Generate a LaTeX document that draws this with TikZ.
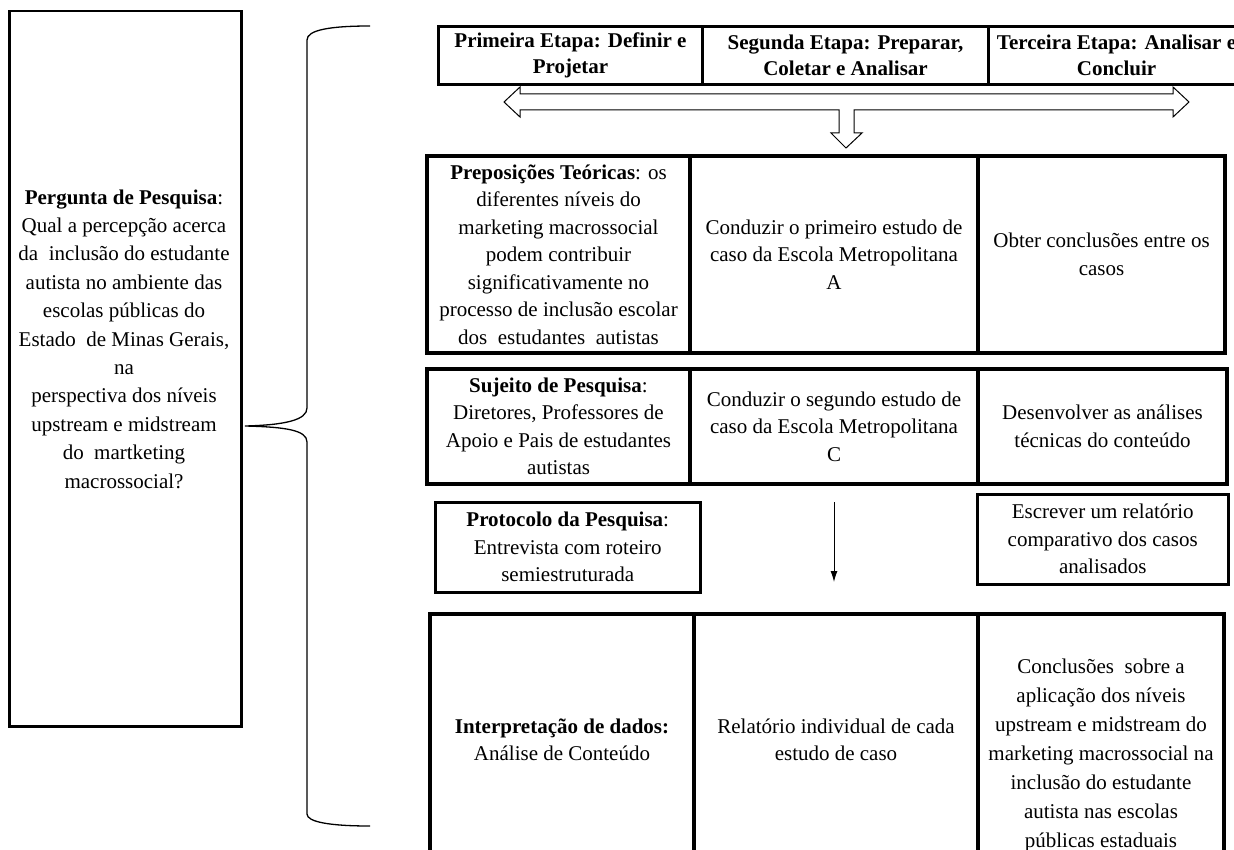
\documentclass[tikz,border=0pt]{standalone}
\usepackage{fontspec}
\setmainfont{Liberation Serif}
\usetikzlibrary{arrows.meta}

\begin{document}
\begin{tikzpicture}[
    x=1pt, y=-1pt,
    every node/.style={font=\fontsize{21}{27.5}\selectfont},
    etapa/.style={rectangle, draw, line width=3pt, anchor=north west, align=center, inner sep=0pt,
      font=\fontsize{21}{26}\selectfont\bfseries},
    cell/.style={rectangle, draw, line width=4pt, anchor=north west, align=center, inner sep=0pt},
    caixa/.style={rectangle, draw, line width=2.5pt, anchor=north west, align=center, inner sep=0pt},
    seta/.style={line width=1pt, line join=miter},
    chave/.style={line width=1.3pt},
    fluxo/.style={line width=0.9pt, -{Latex[length=11pt,width=7pt]}}
]
\useasboundingbox (0,0) rectangle (1234,850);

% Pergunta de pesquisa
\node[caixa, minimum width=232pt, minimum height=715pt] (pergunta) at (8,10) {};
\node[align=center, inner sep=0pt, font=\fontsize{21}{28.4}\selectfont] (pergtxt) at (124,339)
  {\textbf{Pergunta de Pesquisa}:\\Qual a percepção acerca\\da\ \ inclusão do estudante\\autista no ambiente das\\escolas públicas do\\Estado\ \ de Minas Gerais,\\na\\perspectiva dos níveis\\upstream e midstream\\do\ \ martketing\\macrossocial?};

% chave
\coordinate (ponta) at (245,426);
\draw[chave] (370,26) .. controls (330,26) and (307,30) .. (307,40) -- (307,408)
  .. controls (307,420) and (285,425) .. (ponta)
  .. controls (285,427) and (307,430) .. (307,442) -- (307,814)
  .. controls (307,822) and (330,826) .. (370,826);

% Etapas
\node[etapa, minimum width=264pt, minimum height=58pt] (et1) at (437,25) {Primeira Etapa: Definir e\\Projetar};
\node[etapa, minimum width=286pt, minimum height=58pt] (et2) at (701,25) {Segunda Etapa: Preparar,\\Coletar e Analisar};
\node[etapa, minimum width=256pt, minimum height=58pt] (et3) at (987,25) {Terceira Etapa: Analisar e\\Concluir};

% seta dupla com saida para baixo
\draw[seta] (520,94) -- (1173,94) -- (1173,87) -- (1189,102) -- (1173,117) -- (1173,110)
  -- (854,110) -- (854,133) -- (862,133) -- (846,148) -- (831,133) -- (839,133) -- (839,110)
  -- (520,110) -- (520,117) -- (504,102) -- (520,87) -- cycle;

% Linha 1
\node[cell, minimum width=263pt, minimum height=197pt] (prep) at (425,154)
  {\textbf{Preposições Teóricas}: os\\diferentes níveis do\\marketing macrossocial\\podem contribuir\\significativamente no\\processo de inclusão escolar\\dos\ \ estudantes\ \ autistas};
\node[cell, minimum width=288pt, minimum height=197pt] (caso1) at (688,154)
  {Conduzir o primeiro estudo de\\caso da Escola Metropolitana\\A};
\node[cell, minimum width=247pt, minimum height=197pt] (obter) at (976,154)
  {Obter conclusões entre os\\casos};

% Linha 2
\node[cell, minimum width=263pt, minimum height=115pt] (sujeito) at (425,367)
  {\textbf{Sujeito de Pesquisa}:\\Diretores, Professores de\\Apoio e Pais de estudantes\\autistas};
\node[cell, minimum width=288pt, minimum height=115pt] (caso2) at (688,367)
  {Conduzir o segundo estudo de\\caso da Escola Metropolitana\\C};
\node[cell, minimum width=249pt, minimum height=115pt] (analises) at (976,367)
  {Desenvolver as análises\\técnicas do conteúdo};

% Linha intermediaria
\node[caixa, minimum width=265pt, minimum height=90pt] (protocolo) at (434,501)
  {\textbf{Protocolo da Pesquisa}:\\Entrevista com roteiro\\semiestruturada};
\node[caixa, minimum width=251pt, minimum height=90pt] (relatorio) at (976,493)
  {Escrever um relatório\\comparativo dos casos\\analisados};

% Linha 3
\node[cell, minimum width=264pt, minimum height=252pt] (interp) at (428,612)
  {\textbf{Interpretação de dados:}\\Análise de Conteúdo};
\node[cell, minimum width=284pt, minimum height=252pt] (individual) at (692,612)
  {Relatório individual de cada\\estudo de caso};
\node[cell, minimum width=246pt, minimum height=282pt, font=\fontsize{21}{29}\selectfont] (conclusoes) at (976,612)
  {Conclusões\ \ sobre a\\aplicação dos níveis\\upstream e midstream do\\marketing macrossocial na\\inclusão do estudante\\autista nas escolas\\públicas estaduais};

\draw[fluxo, shorten <=16pt, shorten >=30pt] (caso2.south) -- (caso2.south |- individual.north);

\end{tikzpicture}
\end{document}
